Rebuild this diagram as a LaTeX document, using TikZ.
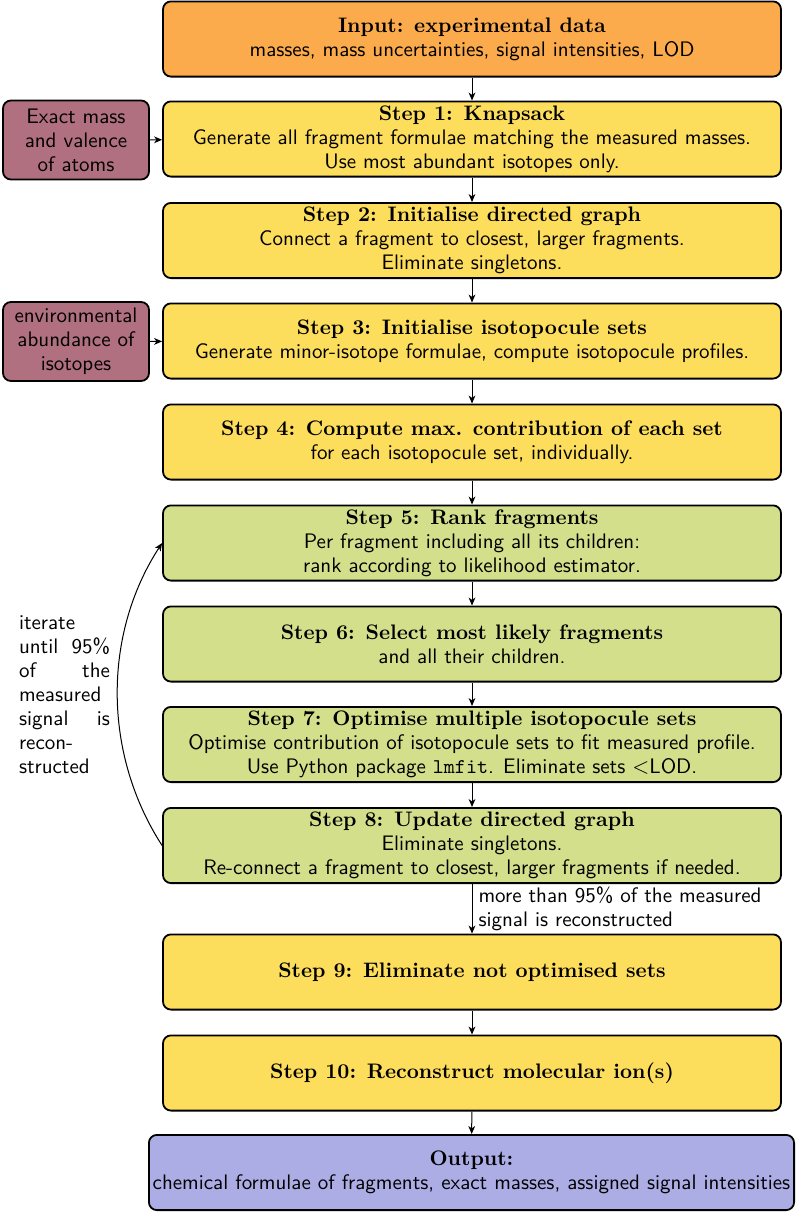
\documentclass[tikz,border=0pt]{standalone}
\usepackage{fontspec}
\usetikzlibrary{arrows.meta}
\definecolor{inorange}{RGB}{251,171,75}
\definecolor{stepyellow}{RGB}{253,221,92}
\definecolor{stepgreen}{RGB}{211,223,139}
\definecolor{srcpurple}{RGB}{176,112,128}
\definecolor{outblue}{RGB}{173,173,230}
\newcommand{\ttl}[1]{{\rmfamily\bfseries #1}}
\newcommand{\fs}{\fontsize{10.5}{12}\selectfont}
\begin{document}
\begin{tikzpicture}[x=0.5pt,y=-0.5pt,
  base/.style={draw, line width=0.9pt, rounded corners=4pt, align=center,
    font=\fs\sffamily, inner sep=2pt},
  mainbox/.style={base, minimum width=309pt, minimum height=37.6pt},
  yel/.style={mainbox, fill=stepyellow},
  grn/.style={mainbox, fill=stepgreen},
  srcbox/.style={base, fill=srcpurple, minimum width=73pt, minimum height=39.5pt},
  flow/.style={-{Stealth[length=4pt,width=3.4pt,inset=1.2pt]}, line width=0.5pt}]
\useasboundingbox (0,0) rectangle (797,1212);

\node[mainbox, fill=inorange] (inp) at (472,39)
  {\ttl{Input: experimental data}\\masses, mass uncertainties, signal intensities, LOD};
\node[yel] (s1) at (472,139)
  {\ttl{Step 1: Knapsack}\\Generate all fragment formulae matching the measured masses.\\Use most abundant isotopes only.};
\node[yel] (s2) at (472,240.5)
  {\ttl{Step 2: Initialise directed graph}\\Connect a fragment to closest, larger fragments.\\Eliminate singletons.};
\node[yel] (s3) at (472,341)
  {\ttl{Step 3: Initialise isotopocule sets}\\Generate minor-isotope formulae, compute isotopocule profiles.};
\node[yel] (s4) at (472,442)
  {\ttl{Step 4: Compute max. contribution of each set}\\for each isotopocule set, individually.};
\node[grn] (s5) at (472,543)
  {\ttl{Step 5: Rank fragments}\\Per fragment including all its children:\\rank according to likelihood estimator.};
\node[grn] (s6) at (472,644)
  {\ttl{Step 6: Select most likely fragments}\\and all their children.};
\node[grn] (s7) at (472,744.5)
  {\ttl{Step 7: Optimise multiple isotopocule sets}\\Optimise contribution of isotopocule sets to fit measured profile.\\Use Python package \texttt{lmfit}. Eliminate sets $<$LOD.};
\node[grn] (s8) at (472,845.5)
  {\ttl{Step 8: Update directed graph}\\Eliminate singletons.\\Re-connect a fragment to closest, larger fragments if needed.};
\node[yel] (s9) at (472,972)
  {\ttl{Step 9: Eliminate not optimised sets}};
\node[yel] (s10) at (472,1073)
  {\ttl{Step 10: Reconstruct molecular ion(s)}};
\node[base, fill=outblue, minimum width=322.6pt, minimum height=37.6pt, inner sep=1pt] (out) at (471.5,1172.5)
  {\ttl{Output:}\\chemical formulae of fragments, exact masses, assigned signal intensities};

\node[srcbox] (exact) at (76,140) {Exact mass\\and valence\\of atoms};
\node[srcbox] (env) at (76,341.5) {environmental\\abundance of\\isotopes};

\node[font=\fs\sffamily, text width=45.5pt, align=left, inner sep=0pt] (iter) at (64.5,695)
  {\baselineskip=12.5pt
   \hbox to 45.5pt{iterate\hfil}
   \hbox to 45.5pt{until\hfill 95\%}
   \hbox to 45.5pt{of\hfill the}
   \hbox to 45.5pt{measured\hfil}
   \hbox to 45.5pt{signal\hfill is}
   \hbox to 45.5pt{recon-\hfil}
   \hbox to 45.5pt{structed\hfil}};

\draw[flow] (inp) -- (s1);
\draw[flow] (s1) -- (s2);
\draw[flow] (s2) -- (s3);
\draw[flow] (s3) -- (s4);
\draw[flow] (s4) -- (s5);
\draw[flow] (s5) -- (s6);
\draw[flow] (s6) -- (s7);
\draw[flow] (s7) -- (s8);
\draw[flow] (s8) -- node[right, align=left, font=\fs\sffamily, inner sep=3pt]
  {more than 95\% of the measured\\signal is reconstructed} (s9);
\draw[flow] (s9) -- (s10);
\draw[flow] (s10) -- (out);
\draw[flow] (exact) -- (s1);
\draw[flow] (env) -- (s3);

\coordinate (c1) at (102.7,753.7);
\coordinate (c2) at (102.7,634.3);
\draw[flow] (s8.west) .. controls (c1) and (c2) .. (s5.west);
\end{tikzpicture}
\end{document}
